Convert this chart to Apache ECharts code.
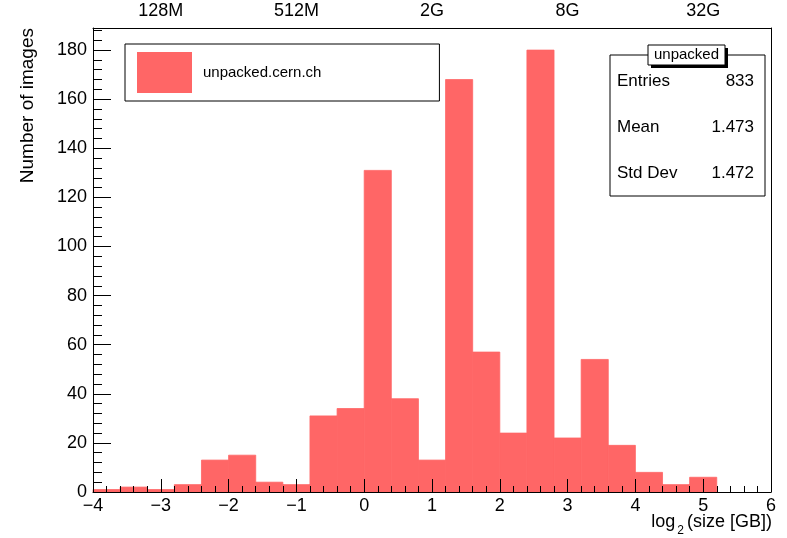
<!DOCTYPE html>
<html>
<head>
<meta charset="utf-8">
<script src="https://cdn.jsdelivr.net/npm/echarts@6/dist/echarts.min.js"></script>
<style>
  html, body { margin: 0; padding: 0; background: #fff; }
  #hist { width: 787px; height: 538px; }
</style>
</head>
<body>
<div id="hist"></div>
<script>
// histogram of log2(size [GB]), 25 bins of 0.4 from -4 to 6
var binStart = -4;
var binWidth = 0.4;
var counts = [1, 2, 1, 3, 13, 15, 4, 3, 31, 34, 131, 38, 13, 168, 57, 24, 180, 22, 54, 19, 8, 3, 6, 0, 0];

var topTickPos = [-3, -1, 1, 3, 5];
var topLabels = ['128M', '512M', '2G', '8G', '32G'];

var yMajor = [0, 20, 40, 60, 80, 100, 120, 140, 160, 180];
var yMinor = [];
for (var v = 0; v <= 188; v += 4) yMinor.push(v);

var statNames = ['Entries', 'Mean', 'Std Dev'];
var statValues = ['833', '1.473', '1.472'];

var seriesName = 'unpacked.cern.ch';
var font = "'Liberation Sans', Arial, sans-serif";

var histData = counts.map(function (c, i) {
  var lo = binStart + i * binWidth;
  return [lo, lo + binWidth, c];
});

var chartDom = document.getElementById('hist');
var myChart = echarts.init(chartDom);
var option;

option = {
  animation: false,
  textStyle: { fontFamily: font, color: '#000' },
  grid: { left: 93, right: 16, top: 28, bottom: 46 },
  legend: {
    data: [{ name: seriesName, icon: 'rect' }],
    left: 125, top: 44,
    itemWidth: 55, itemHeight: 41,
    padding: [8, 118, 8, 12],
    borderColor: '#000', borderWidth: 1,
    backgroundColor: '#fff',
    textStyle: { fontSize: 15, color: '#000', padding: [0, 0, 0, 6] },
    selectedMode: false
  },
  xAxis: [
    {
      type: 'value', min: -4, max: 6, interval: 1, position: 'bottom', z: 50,
      axisLine: { lineStyle: { color: '#000', width: 1 } },
      axisTick: { inside: true, length: 13, lineStyle: { color: '#000' } },
      minorTick: { show: true, splitNumber: 5, length: 6, lineStyle: { color: '#000' } },
      axisLabel: {
        fontSize: 18, color: '#000', margin: 5,
        formatter: function (val) { return String(val).replace('-', '\u2212'); }
      },
      splitLine: { show: false }
    },
    {
      type: 'value', min: -4, max: 6, position: 'top', z: 50,
      axisLine: { show: true, onZero: false, lineStyle: { color: '#000', width: 1 } },
      axisTick: { show: false },
      axisLabel: {
        fontSize: 18, color: '#000', margin: 8,
        customValues: topTickPos,
        formatter: function (val) { return topLabels[topTickPos.indexOf(val)]; }
      },
      splitLine: { show: false }
    }
  ],
  yAxis: [
    {
      type: 'value', min: 0, max: 189, position: 'left', z: 50,
      axisLine: { show: true, onZero: false, lineStyle: { color: '#000', width: 1 } },
      axisTick: { inside: true, length: 18, customValues: yMajor, lineStyle: { color: '#000' } },
      axisLabel: { fontSize: 18, color: '#000', margin: 6, customValues: yMajor },
      splitLine: { show: false }
    },
    {
      type: 'value', min: 0, max: 189, position: 'left', z: 50,
      axisLine: { show: false, onZero: false },
      axisTick: { inside: true, length: 9, customValues: yMinor, lineStyle: { color: '#000' } },
      axisLabel: { show: false },
      splitLine: { show: false }
    },
    {
      type: 'value', min: 0, max: 189, position: 'right', z: 50,
      axisLine: { show: true, onZero: false, lineStyle: { color: '#000', width: 1 } },
      axisTick: { show: false },
      axisLabel: { show: false },
      splitLine: { show: false }
    }
  ],
  series: [
    {
      name: seriesName,
      type: 'custom',
      xAxisIndex: 0,
      yAxisIndex: 0,
      itemStyle: { color: '#ff6666' },
      encode: { x: [0, 1], y: 2 },
      data: histData,
      renderItem: function (params, api) {
        var p0 = api.coord([api.value(0), 0]);
        var p1 = api.coord([api.value(1), api.value(2)]);
        return {
          type: 'rect',
          shape: { x: p0[0], y: p1[1], width: p1[0] - p0[0], height: p0[1] - p1[1] },
          style: { fill: '#ff6666', stroke: api.value(2) > 0 ? '#ff6666' : null, lineWidth: 0.8 }
        };
      },
      z: -5
    }
  ],
  graphic: [
    {
      type: 'text', x: 28, y: 28, rotation: Math.PI / 2,
      style: {
        text: 'Number of images', fontSize: 19, fontFamily: font, fill: '#000',
        align: 'right', verticalAlign: 'middle'
      }
    },
    {
      type: 'text', x: 772, y: 522,
      style: {
        text: '{a|log}{s|2}{a|(size [GB])}',
        align: 'right', verticalAlign: 'middle',
        rich: {
          a: { fontSize: 18, fontFamily: font, fill: '#000', lineHeight: 30, verticalAlign: 'middle' },
          s: { fontSize: 12, fontFamily: font, fill: '#000', lineHeight: 30, verticalAlign: 'bottom', padding: [0, 3, 0, 2] }
        }
      }
    },
    {
      type: 'group', z: 100,
      children: [
        { type: 'rect', shape: { x: 610, y: 55, width: 155, height: 141 },
          style: { fill: '#fff', stroke: '#000', lineWidth: 1 } },
        { type: 'rect', shape: { x: 651, y: 48, width: 77, height: 20 },
          style: { fill: '#000' } },
        { type: 'rect', shape: { x: 648, y: 45, width: 77, height: 20 },
          style: { fill: '#fff', stroke: '#000', lineWidth: 1 } },
        { type: 'text', x: 686.5, y: 55,
          style: { text: 'unpacked', fontSize: 15, fontFamily: font, fill: '#000', align: 'center', verticalAlign: 'middle' } }
      ].concat(statNames.map(function (n, i) {
        return { type: 'text', x: 617, y: 81 + i * 46,
          style: { text: n, fontSize: 17, fontFamily: font, fill: '#000', align: 'left', verticalAlign: 'middle' } };
      })).concat(statValues.map(function (s, i) {
        return { type: 'text', x: 754, y: 81 + i * 46,
          style: { text: s, fontSize: 17, fontFamily: font, fill: '#000', align: 'right', verticalAlign: 'middle' } };
      }))
    }
  ]
};

option && myChart.setOption(option);
</script>
</body>
</html>
